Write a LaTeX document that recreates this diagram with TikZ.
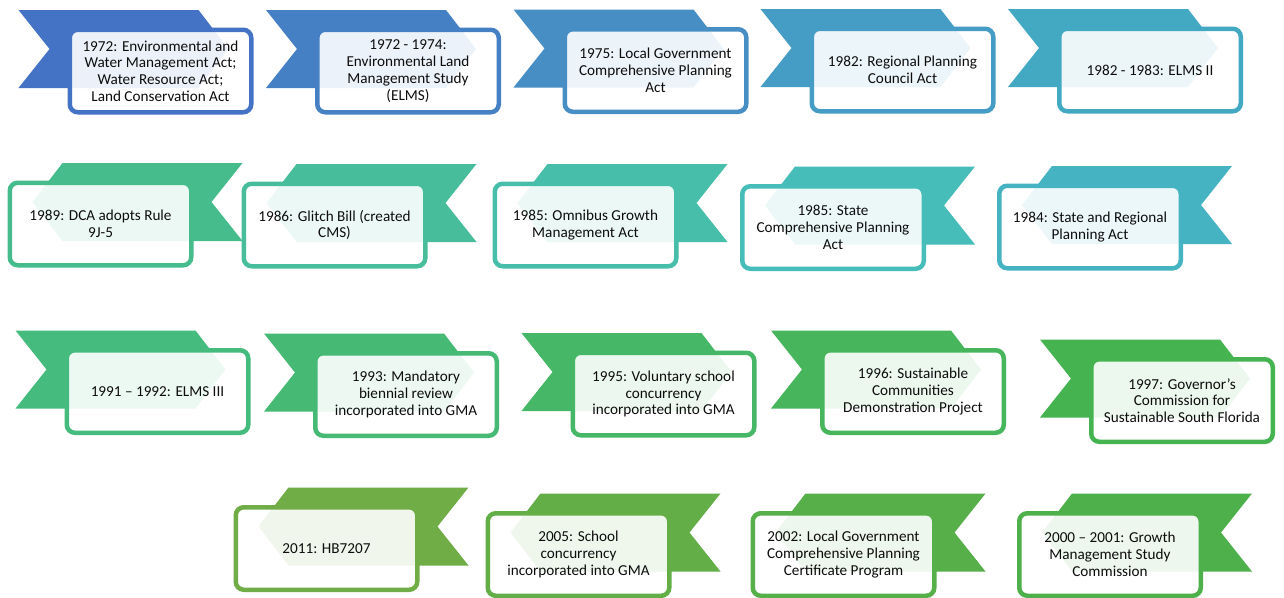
\documentclass[tikz,border=0pt]{standalone}
\usepackage{fontspec}
\setmainfont{Carlito}
\usepackage{xcolor}
\usetikzlibrary{positioning}
\definecolor{Seq01}{HTML}{4472C4}
\definecolor{Seq02}{HTML}{4680C4}
\definecolor{Seq03}{HTML}{468EC4}
\definecolor{Seq04}{HTML}{459CC4}
\definecolor{Seq05}{HTML}{43A9C3}
\definecolor{Seq06}{HTML}{45B3C2}
\definecolor{Seq07}{HTML}{46BDB9}
\definecolor{Seq08}{HTML}{47BEAA}
\definecolor{Seq09}{HTML}{47BD9B}
\definecolor{Seq10}{HTML}{46BC8C}
\definecolor{Seq11}{HTML}{46BB7E}
\definecolor{Seq12}{HTML}{46B974}
\definecolor{Seq13}{HTML}{46B766}
\definecolor{Seq14}{HTML}{46B55B}
\definecolor{Seq15}{HTML}{45B350}
\definecolor{Seq16}{HTML}{4DB04A}
\definecolor{Seq17}{HTML}{57AF49}
\definecolor{Seq18}{HTML}{64AE48}
\definecolor{Seq19}{HTML}{70AD47}

\begin{document}
\begin{tikzpicture}[x=1pt,y=-1pt,
  lawbox/.style={draw=#1,line width=4.5pt,rounded corners=8pt,fill=white,
    fill opacity=0.9,text opacity=1,minimum width=181.5pt,minimum height=82.5pt,
    inner sep=0pt,align=center,text=black!95,font=\fontsize{15.2}{16.8}\selectfont}]
  \useasboundingbox (0,0) rectangle (1284,597);
  \fill[white] (0,0) rectangle (1284,597);
  % x/y of box centre, direction of ribbon, colour, name, text
  \foreach \cx/\cy/\dir/\col/\nm/\txt in {
    160.5/71/1/Seq01/a/{1972: Environmental and\\Water Management Act;\\Water Resource Act;\\Land Conservation Act},
    408/71/1/Seq02/b/{1972 - 1974:\\Environmental Land\\Management Study\\(ELMS)},
    655.5/70.5/1/Seq03/c/{1975: Local Government\\Comprehensive Planning\\Act},
    902.5/70/1/Seq04/d/{1982: Regional Planning\\Council Act},
    1150/70/1/Seq05/e/{1982 - 1983: ELMS II},
    1090/227/-1/Seq06/f/{1984: State and Regional\\Planning Act},
    833/227.5/-1/Seq07/g/{1985: State\\Comprehensive Planning\\Act},
    585.5/225/-1/Seq08/h/{1985: Omnibus Growth\\Management Act},
    334.5/225/-1/Seq09/i/{1986: Glitch Bill (created\\CMS)},
    100.5/224/-1/Seq10/j/{1989: DCA adopts Rule\\9J-5},
    157.5/391.5/1/Seq11/k/{1991 – 1992: ELMS III},
    406/394.5/1/Seq12/l/{1993: Mandatory\\biennial review\\incorporated into GMA},
    663.5/394/1/Seq13/m/{1995: Voluntary school\\concurrency\\incorporated into GMA},
    913/391.5/1/Seq14/n/{1996: Sustainable\\Communities\\Demonstration Project},
    1182/400.5/1/Seq15/o/{1997: Governor’s\\Commission for\\Sustainable South Florida},
    1110/554.5/-1/Seq16/p/{2000 – 2001: Growth\\Management Study\\Commission},
    843.5/554.5/-1/Seq17/q/{2002: Local Government\\Comprehensive Planning\\Certificate Program},
    578.5/554.5/-1/Seq18/r/{2005: School\\concurrency\\incorporated into GMA},
    326.5/548.5/-1/Seq19/s/{2011: HB7207}} {
    \begin{scope}[shift={(\cx,\cy)},xscale=\dir]
      \fill[\col] (-142,-61) -- (38,-61) -- (68,-22) -- (38,17)
        -- (-142,17) -- (-111,-22) -- cycle;
    \end{scope}
    \node[lawbox=\col] (law-\nm) at (\cx,\cy) {\txt};
  }
\end{tikzpicture}
\end{document}
